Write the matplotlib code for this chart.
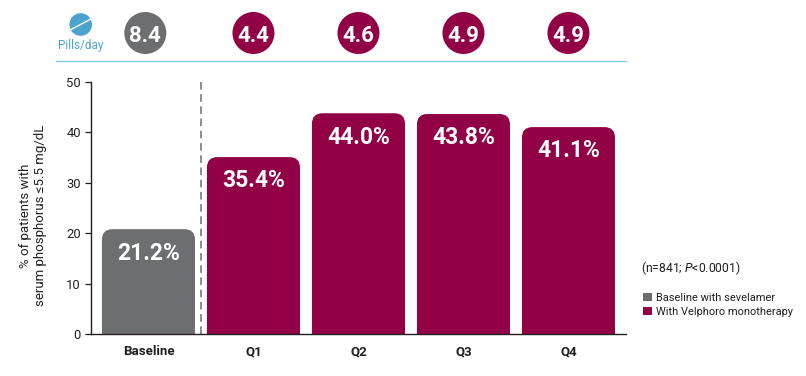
import matplotlib
matplotlib.use('Agg')
from matplotlib import pyplot as plt
from matplotlib.patches import Circle, FancyBboxPatch, Patch

plt.rcParams['font.family'] = ['Roboto', 'DejaVu Sans']
plt.rcParams['mathtext.fontset'] = 'custom'
plt.rcParams['mathtext.it'] = 'Roboto:italic'
plt.rcParams['mathtext.rm'] = 'Roboto'

#Data
quarters = ['Baseline', 'Q1', 'Q2', 'Q3', 'Q4']
percent = [21.2, 35.4, 44.0, 43.8, 41.1]
# the drawn bars sit a little under their printed labels
heights = [20.8, 35.1, 43.8, 43.65, 41.05]
pills = [8.4, 4.4, 4.6, 4.9, 4.9]
pill_pos = [-0.03, 1, 2, 3, 4]
yticks = [0, 10, 20, 30, 40, 50]

grey = '#6d6e70'
wine = '#920046'
blue = '#4ba3d0'
dark = '#231f20'
colors = [grey, wine, wine, wine, wine]

W, H = 806, 376
fig = plt.figure(figsize=(W / 100, H / 100), dpi=100)

#Main axes, placed in pixels
ax = fig.add_axes((90.5 / W, (H - 334) / H, (626 - 90.5) / W, 252 / H))
ax.set_xlim(-0.552, 4.548)
ax.set_ylim(0, 50)
bar_w = 0.886
aspect = (1 / 5.04) / (1 / 105)

for i, val in enumerate(heights):
    # box goes under the axis so the bottom corners get clipped off
    box = FancyBboxPatch((i - bar_w / 2, -5), bar_w, val + 5,
                         boxstyle='round,pad=0,rounding_size=0.1',
                         mutation_aspect=aspect, fc=colors[i], ec='none')
    ax.add_patch(box)
    ax.text(i, val - 2.45, '%.1f%%' % percent[i], color='white', fontsize=16.5,
            fontweight='bold', ha='center', va='top')

ax.axvline(0.5, color=grey, lw=1.1, ls=(0, (5, 3)))

for s in ['top', 'right']:
    ax.spines[s].set_visible(False)
for s in ['left', 'bottom']:
    ax.spines[s].set_color(dark)
    ax.spines[s].set_linewidth(1.0)

ax.set_yticks(yticks)
ax.tick_params(axis='y', length=4, width=0.9, color=dark, labelsize=9.4,
               labelcolor=dark, pad=3)
ax.set_xticks(range(len(quarters)))
ax.set_xticklabels(quarters, fontweight='bold', fontsize=9.5, color=dark)
ax.tick_params(axis='x', length=0, pad=8)
ax.set_ylabel('% of patients with\nserum phosphorus ≤5.5 mg/dL', fontsize=9.5,
              color=dark, linespacing=1.2, labelpad=14)
ax.yaxis.label.set_y(0.47)

#Pills/day strip above the chart
hax = fig.add_axes((90.5 / W, (H - 60) / H, (626 - 90.5) / W, 60 / H))
hax.set_xlim(ax.get_xlim())
hax.set_ylim(60, 0)
hax.axis('off')
hax.scatter(pill_pos, [33] * len(pills), s=(42 * 0.72) ** 2, c=colors,
            linewidths=0, clip_on=False)
for x, p in zip(pill_pos, pills):
    hax.text(x, 33, '%.1f' % p, color='white', fontsize=16, fontweight='bold',
             ha='center', va='center_baseline')

#Overlay in pixels for the icon and rule
over = fig.add_axes((0, 0, 1, 1))
over.set_xlim(0, W)
over.set_ylim(H, 0)
over.axis('off')
over.patch.set_alpha(0)
over.plot([56, 626], [60.5, 60.5], color='#86cdea', lw=1.0)
over.add_patch(Circle((80.7, 24.5), 11.3, fc=blue, ec='none'))
over.plot([70, 91], [30, 19], color='white', lw=1.0)
over.text(80.5, 45, 'Pills/day', color=blue, fontsize=8.5, ha='center', va='center')

over.text(641, 268.5, '(n=841; $\\mathit{P}$<0.0001)', color=dark, fontsize=8.7,
          ha='left', va='center')

handles = [Patch(fc=grey, label='Baseline with sevelamer'),
           Patch(fc=wine, label='With Velphoro monotherapy')]
fig.legend(handles=handles, loc='upper left', bbox_to_anchor=(643 / W, (H - 292.5) / H),
           frameon=False, fontsize=7.95, labelcolor=dark, handlelength=0.85,
           handleheight=0.85, handletextpad=0.3, labelspacing=0.35,
           borderpad=0, borderaxespad=0)

fig.savefig('out.png', dpi=100)
